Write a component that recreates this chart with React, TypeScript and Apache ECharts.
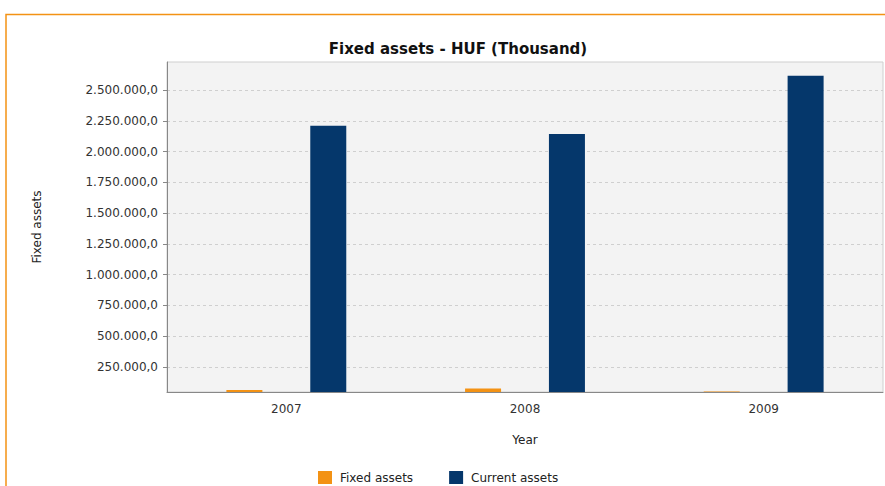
import React, { useEffect, useRef } from "react";
import * as echarts from "echarts";

const categories = ["2007", "2008", "2009"];
const fixedAssets = [62000, 76000, 51000];
const currentAssets = [2209000, 2142000, 2616000];
const yTicks = [250000, 500000, 750000, 1000000, 1250000, 1500000, 1750000, 2000000, 2250000, 2500000];

const fmt = (v: number) =>
  Math.round(v).toString().replace(/\B(?=(\d{3})+(?!\d))/g, ".") + ",0";

export default function App() {
  const ref = useRef<HTMLDivElement>(null);
  useEffect(() => {
    document.body.style.margin = "0";
    const chart = echarts.init(ref.current!, null, { renderer: "svg" });
    const font = "DejaVu Sans";
    chart.setOption({
      animation: false,
      backgroundColor: "#ffffff",
      title: {
        text: "Fixed assets - HUF (Thousand)",
        left: 453,
        textAlign: "center",
        top: 36,
        textStyle: { fontFamily: font, fontWeight: "bold", fontSize: 15, color: "#111" },
      },
      graphic: [
        {
          type: "polyline",
          shape: { points: [[6, 486], [6, 14.5], [885, 14.5]] },
          style: { stroke: "#f39214", lineWidth: 1.5, fill: "none" },
        },
      ],
      legend: {
        left: 313,
        top: 466,
        itemWidth: 14,
        itemHeight: 13,
        itemGap: 36,
        icon: "rect",
        textStyle: { fontFamily: font, fontSize: 12, color: "#222", padding: [0, 0, 0, 3] },
        data: ["Fixed assets", "Current assets"],
      },
      grid: {
        left: 167,
        top: 62,
        width: 716,
        height: 330,
        show: true,
        backgroundColor: "#f3f3f3",
        borderColor: "#cfcfcf",
        borderWidth: 1,
      },
      xAxis: {
        type: "category",
        data: categories,
        name: "Year",
        nameLocation: "middle",
        nameGap: 42,
        nameTextStyle: { fontFamily: font, fontSize: 12, color: "#222" },
        axisLine: { lineStyle: { color: "#888" } },
        axisTick: { show: false },
        axisLabel: { fontFamily: font, fontSize: 12, color: "#333", margin: 11 },
      },
      yAxis: {
        type: "value",
        min: 46700,
        max: 2727700,
        name: "Fixed assets",
        nameLocation: "middle",
        nameGap: 124,
        nameTextStyle: { fontFamily: font, fontSize: 12, color: "#222" },
        axisLine: { show: true, lineStyle: { color: "#888" } },
        axisTick: { show: true, length: 4, lineStyle: { color: "#888" }, customValues: yTicks },
        axisLabel: {
          fontFamily: font,
          fontSize: 12,
          color: "#333",
          margin: 9,
          customValues: yTicks,
          formatter: (v: number) => fmt(v),
        },
        splitLine: { show: true, lineStyle: { color: "#cfcfcf", type: [3, 3] } },
      },
      series: [
        {
          name: "Fixed assets",
          type: "bar",
          data: fixedAssets,
          barWidth: 36,
          barGap: "133%",
          clip: true,
          itemStyle: { color: "#f39214" },
        },
        {
          name: "Current assets",
          type: "bar",
          data: currentAssets,
          barWidth: 36,
          clip: true,
          itemStyle: { color: "#05376b" },
        },
      ],
    });
    return () => chart.dispose();
  }, []);
  return <div ref={ref} style={{ width: 885, height: 486 }} />;
}
